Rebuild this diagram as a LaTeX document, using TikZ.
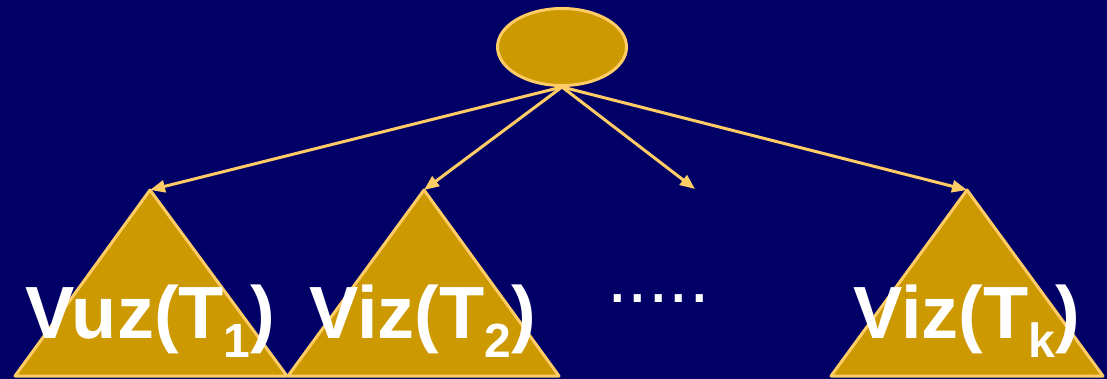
\documentclass[tikz,border=0pt]{standalone}
\usepackage{fontspec}
\setmainfont{Liberation Sans}
\usetikzlibrary{arrows.meta,shapes.geometric}
\definecolor{navy}{RGB}{0,0,102}
\definecolor{gold}{RGB}{204,153,0}
\definecolor{pale}{RGB}{255,204,102}
\newcommand{\lbl}[2]{\fontsize{74}{74}\selectfont\bfseries #1(T\raisebox{-19pt}{\fontsize{48}{48}\selectfont #2})}
\begin{document}
\begin{tikzpicture}[x=1pt,y=-1pt,
  tri/.style={fill=gold,draw=pale,line width=3pt,line join=round},
  link/.style={draw=pale,line width=3pt,-{Triangle[length=15pt,width=12pt]}},
  lab/.style={text=white,inner sep=0pt,anchor=base west}]
\fill[navy] (0,0) rectangle (1107,379);
\useasboundingbox (0,0) rectangle (1107,379);
\node[ellipse,fill=gold,draw=pale,line width=3pt,minimum width=129pt,minimum height=77pt,inner sep=0pt] (root) at (562,47) {};
\coordinate (a1) at (150,190);
\coordinate (a2) at (424,190);
\coordinate (a3) at (695,189);
\coordinate (ak) at (967,190);
\draw[tri] (a1) -- (15,376) -- (287,376) -- cycle;
\draw[tri] (a2) -- (288,376) -- (559,376) -- cycle;
\draw[tri] (ak) -- (831,376) -- (1103,376) -- cycle;
\draw[link] (root.south) -- (a1);
\draw[link] (root.south) -- (a2);
\draw[link] (root.south) -- (a3);
\draw[link] (root.south) -- (ak);
\node[lab] (l1) at (25,338) {\lbl{Vuz}{1}};
\node[lab] (l2) at (309,338) {\lbl{Viz}{2}};
\node[lab] (lk) at (853,338) {\lbl{Viz}{k}};
\node[lab,font=\fontsize{74}{74}\selectfont] (dots) at (607,302) {.....};
\end{tikzpicture}
\end{document}
